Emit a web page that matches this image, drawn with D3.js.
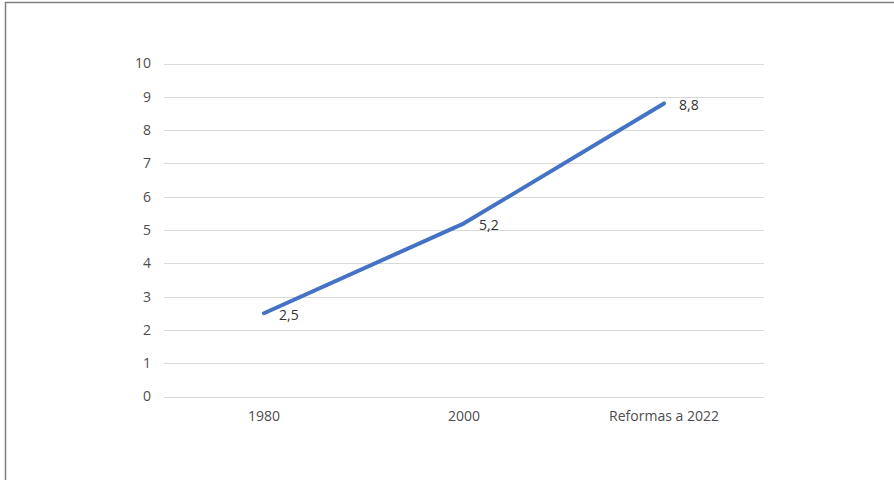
<!DOCTYPE html>
<html><head><meta charset="utf-8">
<script src="https://cdn.jsdelivr.net/npm/d3@7"></script>
<style>
html,body{margin:0;padding:0;background:#fff;}
svg{display:block;}
text{font-family:"Open Sans",sans-serif;}
</style></head>
<body><svg id="c" width="894" height="480"></svg>
<script>
const categories = ["1980", "2000", "Reformas a 2022"];
const values = [2.5, 5.2, 8.8];
const labels = ["2,5", "5,2", "8,8"];
const yTicks = [0,1,2,3,4,5,6,7,8,9,10];

const svg = d3.select("#c");
const W = 894, H = 480;
const plot = {left:164, right:764, top:63.5, bottom:396.5};

// frame (top and left border)
svg.append("path").attr("d", `M5.5,${H} L5.5,2.5 L${W},2.5`)
  .attr("fill","none").attr("stroke","#7f7f7f").attr("stroke-width",1.5);

const x = d3.scaleBand().domain(categories).range([plot.left, plot.right]);
const y = d3.scaleLinear().domain([0,10]).range([plot.bottom, plot.top]);

// grid
svg.append("g").selectAll("line").data(yTicks).join("line")
  .attr("x1", plot.left).attr("x2", plot.right)
  .attr("y1", d => Math.round(y(d))+0.5).attr("y2", d => Math.round(y(d))+0.5)
  .attr("stroke","#d9d9d9").attr("stroke-width",1);

const fs = "14px";
// y axis labels
const yAxis = d3.axisLeft(y).tickValues(yTicks).tickSize(0).tickPadding(13).tickFormat(d3.format("d"));
const gy = svg.append("g").attr("transform",`translate(${plot.left},0)`).call(yAxis);
gy.select(".domain").remove();
gy.selectAll("text").attr("fill","#4d4d4d").style("font-size",fs).style("font-family","'Open Sans',sans-serif");

// x axis labels
const xAxis = d3.axisBottom(x).tickSize(0).tickPadding(15);
const gx = svg.append("g").attr("transform",`translate(0,${plot.bottom})`).call(xAxis);
gx.select(".domain").remove();
gx.selectAll("text").attr("fill","#4d4d4d").style("font-size",fs).style("font-family","'Open Sans',sans-serif");

const cx = c => x(c) + x.bandwidth()/2;

// line
const line = d3.line().x((d,i)=>cx(categories[i])).y(d=>y(d));
svg.append("path").datum(values).attr("d", line)
  .attr("fill","none").attr("stroke","#4472C4").attr("stroke-width",4)
  .attr("stroke-linecap","round").attr("stroke-linejoin","round");

// data labels
svg.append("g").selectAll("text").data(values).join("text")
  .attr("x",(d,i)=>cx(categories[i])+15)
  .attr("y",d=>y(d)+2)
  .attr("dy","0.35em")
  .attr("fill","#333333").style("font-size",fs)
  .text((d,i)=>labels[i]);
</script></body></html>
